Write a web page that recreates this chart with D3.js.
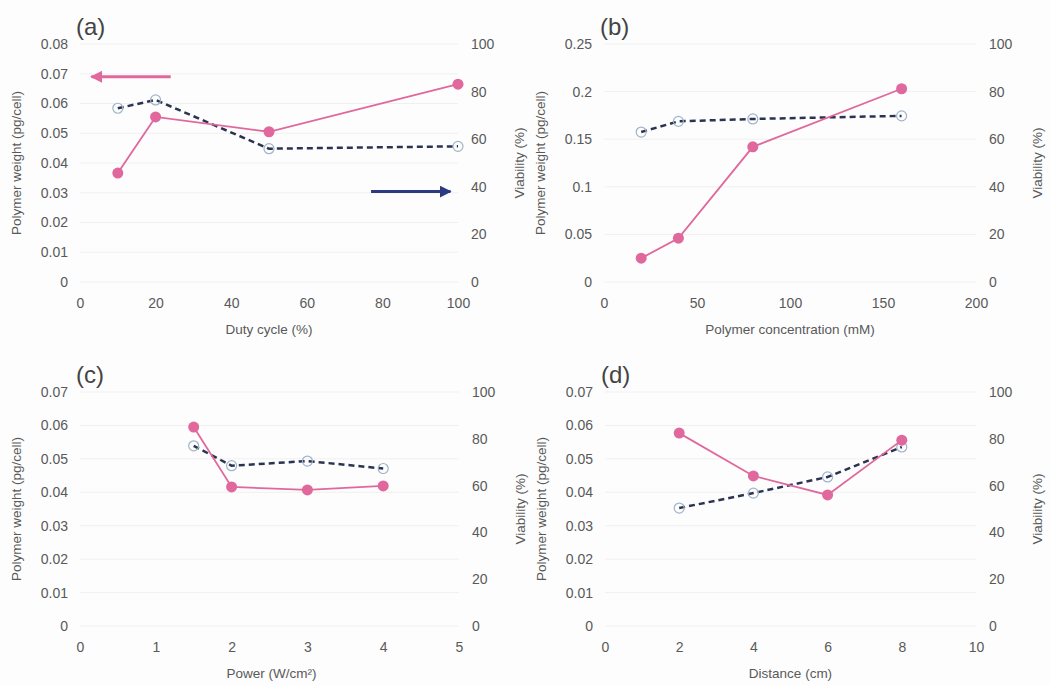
<!DOCTYPE html>
<html>
<head>
<meta charset="utf-8">
<script src="https://cdn.jsdelivr.net/npm/d3@7"></script>
<style>
  body { margin: 0; background: #fdfdfd; }
  svg { display: block; font-family: "Liberation Sans", Arial, sans-serif; }
  .tick text { fill: #595959; font-size: 14px; }
  .ttl { fill: #595959; font-size: 13.5px; }
  .lbl { fill: #444; font-size: 24px; }
</style>
</head>
<body>
<svg id="chart" width="1050" height="685"></svg>
<script>
// panel (a) duty cycle
const dutyX = [10, 20, 50, 100];
const dutyWeight = [0.0366, 0.0555, 0.0505, 0.0665];
const dutyViab = [73, 76.5, 56, 57];
// panel (b) polymer concentration
const concX = [20, 40, 80, 160];
const concWeight = [0.025, 0.046, 0.142, 0.203];
const concViab = [63, 67.5, 68.5, 69.8];
// panel (c) power
const powerX = [1.5, 2, 3, 4];
const powerWeight = [0.0595, 0.0416, 0.0407, 0.0419];
const powerViab = [77, 68.5, 70.5, 67.3];
// panel (d) distance
const distX = [2, 4, 6, 8];
const distWeight = [0.0577, 0.0449, 0.0392, 0.0556];
const distViab = [50.4, 56.8, 63.7, 76.5];

const viabTicks = [0, 20, 40, 60, 80, 100];

const pink = "#e0689c", navy = "#2b3352", arrowNavy = "#2c3a82";

const svg = d3.select("#chart");
svg.append("defs").selectAll("marker")
  .data([["head-pink", pink], ["head-navy", arrowNavy]])
  .join("marker")
    .attr("id", d => d[0])
    .attr("viewBox", "0 0 10 10").attr("refX", 9).attr("refY", 5)
    .attr("markerWidth", 4).attr("markerHeight", 4)
    .attr("orient", "auto")
  .append("path").attr("d", "M0,0L10,5L0,10z").attr("fill", d => d[1]);

const panels = [
  { label: "(a)", x: dutyX, w: dutyWeight, v: dutyViab, xDom: [0, 100], xTicks: [0, 20, 40, 60, 80, 100],
    yDom: [0, 0.08], yTicks: d3.range(0, 0.081, 0.01), xTitle: "Duty cycle (%)",
    left: 80, right: 458, top: 44, bottom: 282, titleDx: 0, arrows: true },
  { label: "(b)", x: concX, w: concWeight, v: concViab, xDom: [0, 200], xTicks: [0, 50, 100, 150, 200],
    yDom: [0, 0.25], yTicks: [0, 0.05, 0.1, 0.15, 0.2, 0.25], xTitle: "Polymer concentration (mM)",
    left: 604, right: 976, top: 44, bottom: 282, titleDx: 0 },
  { label: "(c)", x: powerX, w: powerWeight, v: powerViab, xDom: [0, 5], xTicks: [0, 1, 2, 3, 4, 5],
    yDom: [0, 0.07], yTicks: d3.range(0, 0.071, 0.01), xTitle: "Power (W/cm²)",
    left: 80, right: 459, top: 392, bottom: 626, titleDx: 2 },
  { label: "(d)", x: distX, w: distWeight, v: distViab, xDom: [0, 10], xTicks: [0, 2, 4, 6, 8, 10],
    yDom: [0, 0.07], yTicks: d3.range(0, 0.071, 0.01), xTitle: "Distance (cm)",
    left: 605, right: 976, top: 392, bottom: 626, titleDx: 0 }
];

const fmtW = d => (Math.round(d * 1000) / 1000).toString();

panels.forEach(p => {
  const g = svg.append("g");
  const x = d3.scaleLinear().domain(p.xDom).range([p.left, p.right]);
  const y = d3.scaleLinear().domain(p.yDom).range([p.bottom, p.top]);
  const y2 = d3.scaleLinear().domain([0, 100]).range([p.bottom, p.top]);

  // faint gridlines
  g.append("g").selectAll("line").data(p.yTicks).join("line")
    .attr("x1", p.left).attr("x2", p.right)
    .attr("y1", d => y(d)).attr("y2", d => y(d))
    .attr("stroke", "#f0f0f0");

  const yl = g.append("g").attr("transform", `translate(${p.left - 12},0)`)
    .call(d3.axisLeft(y).tickValues(p.yTicks).tickFormat(fmtW).tickSize(0).tickPadding(0));
  const yr = g.append("g").attr("transform", `translate(${p.right + 13},0)`)
    .call(d3.axisRight(y2).tickValues(viabTicks).tickSize(0).tickPadding(0));
  const xa = g.append("g").attr("transform", `translate(0,${p.bottom + 16})`)
    .call(d3.axisBottom(x).tickValues(p.xTicks).tickFormat(d3.format("d")).tickSize(0).tickPadding(0));
  [yl, yr, xa].forEach(a => a.select(".domain").remove());
  xa.selectAll("text").attr("dy", "0.71em");

  g.append("text").attr("class", "lbl").attr("x", p.left - 4).attr("y", p.top - 9).text(p.label);
  g.append("text").attr("class", "ttl").attr("text-anchor", "middle")
    .attr("x", (p.left + p.right) / 2 + p.titleDx).attr("y", p.bottom + 52).text(p.xTitle);
  g.append("text").attr("class", "ttl").attr("text-anchor", "middle")
    .attr("transform", `translate(${p.left - 59},${(p.top + p.bottom) / 2}) rotate(-90)`)
    .text("Polymer weight (pg/cell)");
  g.append("text").attr("class", "ttl").attr("text-anchor", "middle")
    .attr("transform", `translate(${p.right + 66},${(p.top + p.bottom) / 2}) rotate(-90)`)
    .text("Viability (%)");

  const pts = p.x.map((d, i) => ({ x: d, w: p.w[i], v: p.v[i] }));

  // viability: dashed navy, open circles
  g.append("path").datum(pts)
    .attr("fill", "none").attr("stroke", navy).attr("stroke-width", 2.5)
    .attr("stroke-dasharray", "6,4")
    .attr("d", d3.line().x(d => x(d.x)).y(d => y2(d.v)));
  g.append("g").selectAll("circle").data(pts).join("circle")
    .attr("cx", d => x(d.x)).attr("cy", d => y2(d.v)).attr("r", 5)
    .attr("fill", "none").attr("stroke", "#9fb4c8").attr("stroke-width", 1.2);

  // polymer weight: solid pink, filled circles
  g.append("path").datum(pts)
    .attr("fill", "none").attr("stroke", pink).attr("stroke-width", 1.8)
    .attr("d", d3.line().x(d => x(d.x)).y(d => y(d.w)));
  g.append("g").selectAll("circle").data(pts).join("circle")
    .attr("cx", d => x(d.x)).attr("cy", d => y(d.w)).attr("r", 5.5)
    .attr("fill", pink);

  if (p.arrows) {
    g.append("line")
      .attr("x1", x(24)).attr("x2", x(3)).attr("y1", y(0.069)).attr("y2", y(0.069))
      .attr("stroke", pink).attr("stroke-width", 3).attr("marker-end", "url(#head-pink)");
    g.append("line")
      .attr("x1", x(77)).attr("x2", x(98)).attr("y1", y2(38)).attr("y2", y2(38))
      .attr("stroke", arrowNavy).attr("stroke-width", 3).attr("marker-end", "url(#head-navy)");
  }
});
</script>
</body>
</html>
